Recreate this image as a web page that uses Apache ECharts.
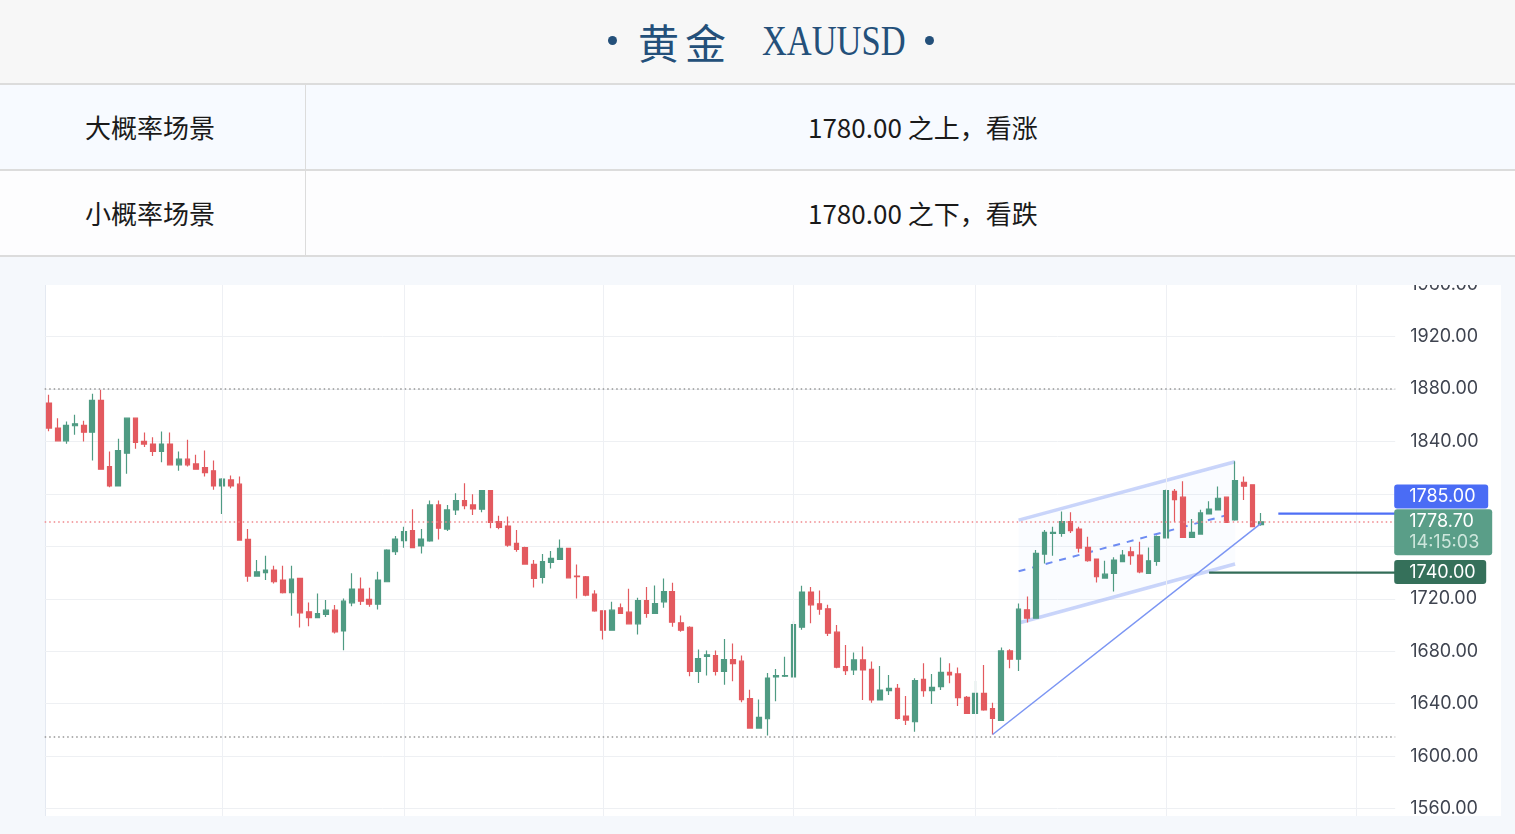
<!DOCTYPE html>
<html><head><meta charset="utf-8">
<script src="https://cdn.jsdelivr.net/npm/echarts@6/dist/echarts.min.js"></script>
<style>
html,body{margin:0;padding:0;width:1515px;height:834px;overflow:hidden;background:#f5f8fc;font-family:"Noto Sans CJK SC",sans-serif;}
.abs{position:absolute;}
#header{left:0;top:0;width:1515px;height:83px;background:#f7f7f7;border-bottom:2px solid #dcdcdc;z-index:3;}
.tt{position:absolute;top:0;height:83px;line-height:83px;color:#24507a;white-space:nowrap;}
.dot{position:absolute;top:36px;width:9px;height:9px;border-radius:50%;background:#24507a;}
#row1{left:0;top:85px;width:1515px;height:84px;background:#f7faff;border-bottom:2px solid #dcdcdc;z-index:3;}
#row2{left:0;top:171px;width:1515px;height:84px;background:#fdfdfe;border-bottom:2px solid #dcdcdc;z-index:3;}
.vdiv{position:absolute;left:305px;top:0;width:1px;height:84px;background:#dcdcdc;}
.cell{position:absolute;top:0;height:84px;line-height:84px;font-size:26px;color:#1a1a1a;white-space:nowrap;}
#gap{left:0;top:257px;width:1515px;height:28px;background:#f5f8fc;z-index:2;}
#panel{left:45px;top:285px;width:1455px;height:531px;background:#ffffff;border-left:1px solid #e4e9f1;z-index:0;}
#bottom{left:0;top:816px;width:1515px;height:18px;background:#f5f8fc;z-index:2;}
#chart{left:0;top:200px;width:1515px;height:700px;z-index:1;}
</style>
</head>
<body>
<div id="header" class="abs">
  <div class="dot" style="left:608px;"></div>
  <span class="tt" style="left:638px;font-size:41px;letter-spacing:6px;">黄金</span>
  <span class="tt" style="left:762px;font-size:42px;font-family:'Liberation Serif',serif;display:inline-block;transform:scaleX(0.82);transform-origin:left center;">XAUUSD</span>
  <div class="dot" style="left:925px;"></div>
</div>
<div id="row1" class="abs">
  <div class="cell" style="left:85px;">大概率场景</div>
  <div class="vdiv"></div>
  <div class="cell" style="left:808px;">1780.00 之上，看涨</div>
</div>
<div id="row2" class="abs">
  <div class="cell" style="left:85px;">小概率场景</div>
  <div class="vdiv"></div>
  <div class="cell" style="left:808px;">1780.00 之下，看跌</div>
</div>
<div id="gap" class="abs"></div>
<div id="panel" class="abs"></div>
<div id="chart" class="abs"></div>
<div id="bottom" class="abs"></div>
<script>
// ---- data ----
const opens = [1869.3,1850.2,1840.5,1852.0,1852.2,1847.1,1871.3,1820.9,1806.1,1831.1,1857.8,1840.0,1838.0,1832.4,1838.0,1822.2,1826.5,1822.9,1820.1,1817.6,
1806.1,1810.7,1807.4,1765.3,1737.3,1739.9,1741.9,1734.3,1724.6,1735.5,1710.1,1705.7,1708.0,1711.3,1695.5,1716.9,1727.4,1719.5,1715.9,1733.0,
1755.9,1764.3,1772.0,1760.3,1764.1,1791.6,1773.2,1787.8,1794.9,1791.6,1788.3,1802.5,1778.9,1775.5,1762.3,1759.0,1746.2,1736.3,1747.8,1750.1,
1758.5,1737.3,1736.8,1723.6,1710.8,1696.0,1713.1,1709.8,1700.9,1718.7,1708.8,1717.7,1725.4,1701.7,1698.3,1664.7,1676.0,1676.7,1664.7,1673.6,
1672.4,1643.8,1621.4,1628.5,1660.4,1660.9,1660.4,1698.3,1725.1,1716.2,1712.4,1694.5,1668.3,1665.7,1673.4,1666.2,1642.8,1649.9,1651.7,1630.6,
1626.2,1658.6,1649.9,1653.0,1663.9,1662.7,1644.8,1632.6,1647.9,1636.2,1627.3,1680.2,1673.9,1711.6,1705.2,1754.1,1769.9,1769.9,1778.9,1773.2,
1759.2,1750.3,1735.8,1739.4,1748.3,1755.9,1753.4,1739.4,1748.5,1766.4,1802.0,1797.5,1766.9,1769.4,1784.7,1787.8,1797.5,1780.1,1808.9,1806.9,1776.6];
const closes = [1850.2,1840.5,1852.2,1853.5,1847.1,1871.3,1818.9,1806.1,1833.1,1857.8,1839.2,1838.0,1832.4,1838.0,1822.2,1826.5,1822.2,1818.9,1816.3,1806.1,
1811.2,1806.1,1764.8,1737.3,1740.6,1741.9,1733.0,1724.6,1735.0,1709.3,1705.7,1708.8,1711.3,1694.8,1718.2,1727.4,1718.2,1715.9,1734.3,1757.2,
1765.6,1771.2,1759.0,1765.6,1791.6,1773.8,1787.8,1794.9,1791.1,1788.5,1802.5,1778.3,1774.5,1761.0,1757.7,1746.5,1735.5,1748.3,1750.8,1758.5,
1736.0,1736.8,1722.8,1710.8,1696.0,1711.3,1708.8,1700.9,1718.7,1708.8,1716.4,1725.4,1702.2,1696.0,1664.7,1674.4,1677.3,1664.7,1673.6,1670.6,
1643.1,1621.4,1629.5,1659.6,1661.4,1661.4,1700.4,1725.1,1715.4,1712.1,1693.8,1667.8,1665.2,1673.4,1665.7,1642.8,1650.4,1651.7,1628.8,1627.5,
1657.6,1649.9,1652.5,1663.9,1661.9,1644.6,1632.6,1647.9,1635.2,1628.8,1680.2,1673.9,1712.1,1705.2,1754.6,1770.7,1770.7,1778.9,1772.0,1758.7,
1749.0,1736.8,1738.8,1749.5,1753.4,1752.9,1740.6,1749.0,1767.4,1802.5,1795.7,1766.9,1770.7,1785.5,1788.5,1796.7,1778.3,1810.2,1805.9,1775.0,1778.7];
const lows = [1847.8,1840.0,1838.2,1845.1,1840.0,1825.5,1818.9,1805.1,1806.1,1815.3,1834.4,1835.7,1829.0,1824.2,1822.2,1817.6,1820.9,1818.9,1813.2,1803.1,
1784.7,1804.3,1764.8,1733.0,1737.3,1734.3,1731.7,1724.1,1707.0,1698.1,1699.1,1705.7,1706.2,1693.5,1680.8,1714.4,1715.2,1713.9,1711.8,1733.0,
1753.4,1759.0,1759.0,1754.6,1763.6,1765.3,1771.7,1784.0,1788.3,1784.0,1786.0,1773.8,1773.0,1759.7,1755.9,1746.5,1728.7,1731.7,1743.2,1750.1,
1735.5,1720.2,1722.0,1710.1,1688.9,1696.0,1708.8,1700.9,1692.7,1705.5,1708.8,1713.1,1698.6,1694.8,1660.9,1655.8,1661.4,1661.4,1654.5,1657.1,
1641.0,1621.4,1621.4,1615.8,1641.8,1660.4,1660.4,1696.3,1701.4,1707.8,1691.7,1667.0,1661.9,1661.9,1642.8,1640.8,1642.8,1646.6,1628.0,1623.7,
1618.6,1645.3,1639.7,1650.4,1655.5,1638.2,1632.6,1632.1,1634.6,1616.5,1627.3,1667.0,1664.9,1701.9,1705.2,1747.0,1752.9,1767.4,1770.2,1755.4,
1748.3,1732.5,1735.5,1725.6,1747.8,1746.0,1739.4,1739.4,1745.2,1766.4,1778.3,1766.4,1766.4,1768.9,1784.2,1787.8,1778.3,1779.6,1795.4,1774.5,1775.8];
const highs = [1875.7,1857.8,1855.3,1860.4,1855.8,1876.4,1879.5,1832.4,1842.0,1857.8,1857.8,1846.9,1843.3,1847.6,1846.9,1832.4,1841.3,1829.8,1833.1,1825.5,
1812.0,1814.0,1813.2,1773.2,1749.5,1752.9,1745.2,1745.2,1745.2,1736.0,1717.2,1724.1,1719.0,1715.2,1720.2,1739.4,1736.3,1728.4,1740.6,1757.7,
1767.9,1775.0,1788.3,1773.2,1794.9,1794.9,1791.6,1800.5,1808.2,1799.7,1802.5,1802.5,1783.4,1782.7,1772.5,1759.7,1749.5,1754.1,1756.4,1765.3,
1758.5,1746.2,1737.3,1726.6,1711.3,1717.7,1716.4,1727.6,1720.8,1728.9,1730.2,1735.5,1732.2,1707.3,1699.1,1681.3,1680.5,1680.5,1689.4,1685.9,
1676.7,1650.7,1643.1,1663.4,1666.5,1675.7,1702.9,1729.9,1728.9,1726.4,1715.4,1700.1,1684.8,1679.0,1683.6,1672.1,1668.8,1661.9,1655.0,1645.9,
1659.4,1670.8,1662.7,1675.2,1670.8,1667.5,1645.9,1657.3,1669.5,1640.8,1682.8,1681.5,1716.4,1721.8,1757.2,1772.5,1775.0,1786.5,1786.0,1775.0,
1767.4,1750.3,1749.0,1751.6,1757.2,1759.7,1763.6,1759.2,1768.2,1803.1,1803.8,1809.7,1780.9,1788.0,1794.4,1805.6,1798.0,1825.0,1813.2,1807.1,1785.5];

// trading days (weekdays), 2022-06-03 onward, incl. empty future slots
const firstDay = '2022-06-03';
const totalSlots = 156;
const cats = [];
(function(){ const d = new Date(firstDay + 'T00:00:00Z');
  while (cats.length < totalSlots) { const w = d.getUTCDay(); if (w !== 0 && w !== 6) cats.push(d.toISOString().slice(0,10)); d.setUTCDate(d.getUTCDate()+1); } })();
const monthStarts = cats.filter((c,i)=> i>0 && c.slice(5,7) !== cats[i-1].slice(5,7));

const yTicksMin = 1520, yTicksMax = 2000, yTickStep = 40;
const currentPrice = 1778.70, currentTime = '14:15:03';
const levelDotted = [1880, 1614.5];
const levelBlue = 1785.00, levelBlueStart = 142;
const levelGreen = 1740.00, levelGreenStart = 134;
const trendStart = [109, 1616.5], trendEnd = [140, 1777.5];
const channelIdx = [112, 137];
const channelUpper = [1780.0, 1824.5];
const channelMid = [1741.0, 1785.5];
const channelLower = [1701.5, 1746.5];

const candleData = opens.map((o,i)=>[o, closes[i], lows[i], highs[i]]);
const UP = '#4f9b83', DOWN = '#e35a5f';

const chart = echarts.init(document.getElementById('chart'));
const option = {
  animation: false,
  grid: { left: 44.7, right: 119.8, top: 31.7, bottom: 39 },
  xAxis: { type: 'category', data: cats, boundaryGap: true,
    axisLine: {show:false}, axisTick: {show:false}, axisLabel: {show:false}, splitLine: {show:false} },
  yAxis: { type: 'value', position: 'right', min: yTicksMin, max: yTicksMax, interval: yTickStep, scale: true,
    axisLine: {show:false}, axisTick: {show:false},
    axisLabel: { margin: 15, color: '#3f4450', fontSize: 18, fontFamily: 'Inter, Roboto, sans-serif', formatter: v => v.toFixed(2) },
    splitLine: { lineStyle: { color: '#eef0f3', width: 1 } } },
  series: [
    { type: 'custom', z: 1, silent: true,
      data: [[channelIdx[0], channelUpper[0], channelMid[0], channelLower[0], channelIdx[1], channelUpper[1], channelMid[1], channelLower[1]]],
      encode: { x: [0,4], y: [1,2,3,5,6,7] },
      renderItem: function(params, api){
        const u1 = api.coord([api.value(0), api.value(1)]);
        const m1 = api.coord([api.value(0), api.value(2)]);
        const l1 = api.coord([api.value(0), api.value(3)]);
        const u2 = api.coord([api.value(4), api.value(5)]);
        const m2 = api.coord([api.value(4), api.value(6)]);
        const l2 = api.coord([api.value(4), api.value(7)]);
        const edge = 'rgba(150,172,245,0.5)';
        return { type: 'group', children: [
          { type: 'polygon', shape: { points: [u1,u2,l2,l1] }, style: { fill: 'rgba(205,218,250,0.09)' } },
          { type: 'line', shape: { x1:u1[0], y1:u1[1], x2:u2[0], y2:u2[1] }, style: { stroke: edge, lineWidth: 3.5 } },
          { type: 'line', shape: { x1:l1[0], y1:l1[1], x2:l2[0], y2:l2[1] }, style: { stroke: edge, lineWidth: 3.5 } },
          { type: 'line', shape: { x1:m1[0], y1:m1[1], x2:m2[0], y2:m2[1] }, style: { stroke: '#6e8cf2', lineWidth: 2, lineDash: [7,7] } }
        ]};
      }
    },
    { type: 'candlestick', z: 2, data: candleData, barWidth: 5.2,
      itemStyle: { color: UP, color0: DOWN, borderColor: UP, borderColor0: DOWN, borderWidth: 1.2 },
      markLine: { silent: true, symbol: ['none','none'], label: {show:false}, animation:false,
        data: [
          ...monthStarts.map(c => ({ xAxis: c, lineStyle: { color: '#eef0f4', width: 1, type: 'solid' } })),
          ...levelDotted.map(v => ({ yAxis: v, lineStyle: { color: '#959595', width: 1.5, type: [1.5,3] } })),
          { yAxis: currentPrice, lineStyle: { color: '#f0868b', width: 1.5, type: [1.5,3] } },
          [ { coord: [cats[trendStart[0]], trendStart[1]], lineStyle: { color: '#7b95f3', width: 1.5, type: 'solid' } },
            { coord: [cats[trendEnd[0]], trendEnd[1]] } ]
        ] }
    }
  ]
};
chart.setOption(option);

const px = (i, v) => chart.convertToPixel({gridIndex: 0}, [cats[i], v]);
const step = px(1, levelBlue)[0] - px(0, levelBlue)[0];
const gridRight = px(cats.length - 1, levelBlue)[0] + step / 2;
const yB = px(levelBlueStart, levelBlue)[1];
const yG = px(levelGreenStart, levelGreen)[1];
const yC = px(0, currentPrice)[1];
const fnt = '18px Inter, Roboto, sans-serif';
chart.setOption({ graphic: [
  { type: 'line', z: 50, shape: { x1: px(levelBlueStart, levelBlue)[0], y1: yB, x2: gridRight, y2: yB }, style: { stroke: '#4f6ff5', lineWidth: 2.2 } },
  { type: 'line', z: 50, shape: { x1: px(levelGreenStart, levelGreen)[0], y1: yG, x2: gridRight, y2: yG }, style: { stroke: '#336d58', lineWidth: 2.2 } },
  { type: 'rect', z: 100, shape: { x: gridRight - 1, y: yB - 29, width: 94, height: 24, r: 3 }, style: { fill: '#4a6cf5' } },
  { type: 'text', z: 101, style: { x: gridRight + 14, y: yB - 16.5, text: levelBlue.toFixed(2), fill: '#ffffff', font: fnt, verticalAlign: 'middle' } },
  { type: 'rect', z: 100, shape: { x: gridRight - 1, y: yC - 12.7, width: 98, height: 46, r: 3 }, style: { fill: '#5a9e88' } },
  { type: 'text', z: 101, style: { x: gridRight + 14, y: yC - 0.5, text: currentPrice.toFixed(2), fill: '#ffffff', font: fnt, verticalAlign: 'middle' } },
  { type: 'text', z: 101, style: { x: gridRight + 14, y: yC + 21, text: currentTime, fill: '#cde6dc', font: fnt, verticalAlign: 'middle' } },
  { type: 'rect', z: 100, shape: { x: gridRight - 1, y: yG - 12.5, width: 92, height: 24, r: 3 }, style: { fill: '#35705a' } },
  { type: 'text', z: 101, style: { x: gridRight + 14, y: yG, text: levelGreen.toFixed(2), fill: '#ffffff', font: fnt, verticalAlign: 'middle' } }
]});
</script>
</body></html>
